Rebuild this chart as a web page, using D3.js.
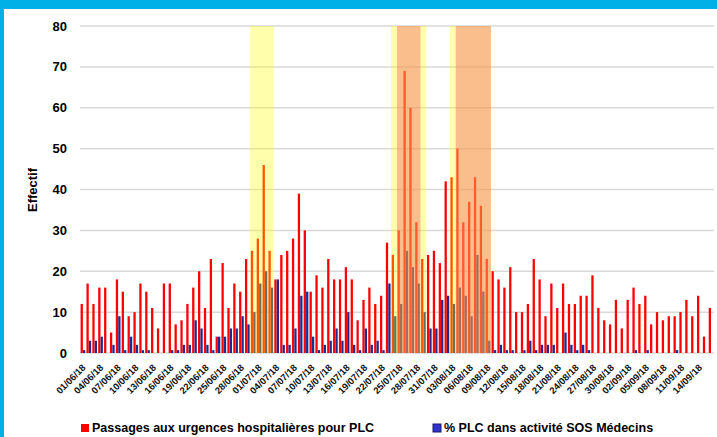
<!DOCTYPE html>
<html>
<head>
<meta charset="utf-8">
<script src="https://cdn.jsdelivr.net/npm/d3@7"></script>
<style>
  body { margin: 0; background: #fff; }
  svg { font-family: "Liberation Sans", Arial, sans-serif; display: block; }
</style>
</head>
<body>
<div id="chart"></div>
<script>
// daily categories 01/06/18 -> 16/09/18
const parseDay = d3.timeParse("%d/%m/%y");
const formatDay = d3.timeFormat("%d/%m/%y");
const days = d3.timeDay
  .range(parseDay("01/06/18"), parseDay("17/09/18"))
  .map(formatDay);

// Passages aux urgences hospitalières pour PLC
const urgences = [
  12, 17, 12, 16, 16, 5, 18, 15, 9, 10, 17, 15, 11, 6, 17, 17, 7, 8, 12, 16,
  20, 11, 23, 4, 22, 11, 17, 15, 23, 25, 28, 46, 25, 18, 24, 25, 28, 39, 30, 15,
  19, 16, 23, 18, 18, 21, 18, 8, 13, 16, 12, 14, 27, 24, 30, 69, 60, 32, 23, 24,
  25, 22, 42, 43, 50, 32, 37, 43, 36, 23, 20, 18, 16, 21, 10, 10, 12, 23, 18, 9,
  17, 11, 17, 12, 12, 14, 14, 19, 11, 8, 7, 13, 6, 13, 16, 12, 14, 7, 10, 8,
  9, 9, 10, 13, 9, 14, 4, 11
];

// % PLC dans activité SOS Médecins
const sosMedecins = [
  0.7, 3, 3, 4, 0, 2, 9, 0.7, 4, 2, 0.7, 0.7, 0, 0, 0, 0.7, 0.7, 2, 2, 8,
  6, 2, 0.7, 4, 4, 6, 6, 9, 7, 10, 17, 20, 16, 18, 2, 2, 6, 14, 15, 4,
  0.7, 2, 3, 6, 3, 10, 2, 0.7, 6, 2, 3, 0.7, 17, 9, 12, 25, 21, 17, 10, 6,
  6, 13, 14, 12, 16, 14, 9, 24, 15, 3, 0.7, 2, 0.7, 0.7, 0, 0.7, 3, 0.7, 2, 2,
  2, 0, 5, 2, 0.7, 2, 0.7, 0, 0, 0, 0, 0, 0, 0, 0.7, 0, 0.7, 0, 0, 0,
  0, 0.7, 0, 0, 0, 0, 0, 0
];

const yTicks = [0, 10, 20, 30, 40, 50, 60, 70, 80];

// vigilance periods (first and last day)
const yellowPeriods = [
  ["30/06/18", "03/07/18"],
  ["24/07/18", "24/07/18"],
  ["29/07/18", "29/07/18"],
  ["03/08/18", "03/08/18"]
];
const orangePeriods = [
  ["25/07/18", "28/07/18"],
  ["04/08/18", "09/08/18"]
];

const seriesNames = [
  "Passages aux urgences hospitalières pour PLC",
  "% PLC dans activité SOS Médecins"
];

function createChart() {
  var width = 717;
  var height = 437;

  var svg = d3.select("#chart")
    .append("svg")
    .attr("width", width)
    .attr("height", height);

  // frame
  svg.append("rect").attr("x", 0).attr("y", 0).attr("width", width).attr("height", 9).attr("fill", "#00B0E6");
  svg.append("rect").attr("x", 0).attr("y", 0).attr("width", 4).attr("height", height).attr("fill", "#00B0E6");

  var x = d3.scaleBand().domain(days).range([80, 714]).padding(0);
  var y = d3.scaleLinear().domain([0, 80]).range([353, 26]);
  var sub = d3.scaleBand()
    .domain(["urg", "sos"])
    .range([0, x.step()])
    .paddingInner(0.05)
    .paddingOuter(0.25);

  // gridlines
  svg.append("g")
    .selectAll("line")
    .data(yTicks)
    .enter()
    .append("line")
    .attr("x1", 80)
    .attr("x2", 714)
    .attr("y1", (d) => y(d))
    .attr("y2", (d) => y(d))
    .attr("stroke", "#d9d9d9")
    .attr("stroke-width", 1.5);

  var rows = days.map(function (d, i) {
    return { day: d, urg: urgences[i], sos: sosMedecins[i] };
  });

  svg.append("g")
    .selectAll("rect")
    .data(rows)
    .enter()
    .append("rect")
    .attr("x", (d) => x(d.day) + sub("urg"))
    .attr("width", sub.bandwidth())
    .attr("y", (d) => y(d.urg))
    .attr("height", (d) => y(0) - y(d.urg))
    .attr("fill", "#ff0000");

  svg.append("g")
    .selectAll("rect")
    .data(rows.filter((d) => d.sos > 0))
    .enter()
    .append("rect")
    .attr("x", (d) => x(d.day) + sub("sos"))
    .attr("width", sub.bandwidth())
    .attr("y", (d) => y(d.sos))
    .attr("height", (d) => y(0) - y(d.sos))
    .attr("fill", "#1f2a8c");

  // vigilance overlays, drawn over the bars
  function bands(periods, color, opacity) {
    svg.append("g")
      .selectAll("rect")
      .data(periods)
      .enter()
      .append("rect")
      .attr("x", (d) => x(d[0]))
      .attr("width", (d) => x(d[1]) + x.step() - x(d[0]))
      .attr("y", y(80))
      .attr("height", y(0) - y(80))
      .attr("fill", color)
      .attr("fill-opacity", opacity);
  }
  bands(yellowPeriods, "#ffff00", 0.33);
  bands(orangePeriods, "#f79646", 0.62);

  // x labels, every 3 days
  var tickDays = days.filter((d, i) => i % 3 === 0);
  svg.append("g")
    .selectAll("text")
    .data(tickDays)
    .enter()
    .append("text")
    .attr("transform", (d) => "translate(" + (x(d) + x.step() / 2 + 1) + ",366) rotate(-45)")
    .attr("text-anchor", "end")
    .attr("dy", "0.35em")
    .style("font-size", "9.5px")
    .style("font-weight", "bold")
    .attr("fill", "#111")
    .text((d) => d);

  // y labels
  svg.append("g")
    .selectAll("text")
    .data(yTicks)
    .enter()
    .append("text")
    .attr("x", 67)
    .attr("y", (d) => y(d))
    .attr("dy", "0.35em")
    .attr("text-anchor", "end")
    .style("font-size", "13px")
    .style("font-weight", "bold")
    .text((d) => d);

  svg.append("text")
    .attr("transform", "translate(37,190) rotate(-90)")
    .attr("text-anchor", "middle")
    .style("font-size", "13px")
    .style("font-weight", "bold")
    .text("Effectif");

  // legend
  var legend = svg.append("g").attr("class", "legend");
  var legendX = [81, 433];
  var legendColors = ["#ff0000", "#3333cc"];
  seriesNames.forEach(function (name, i) {
    legend.append("rect")
      .attr("x", legendX[i])
      .attr("y", 424)
      .attr("width", 8)
      .attr("height", 8)
      .attr("fill", legendColors[i])
      .attr("stroke", i === 1 ? "#1a1a70" : "none");
    legend.append("text")
      .attr("x", legendX[i] + 11)
      .attr("y", 432)
      .style("font-size", "12.5px")
      .style("font-weight", "bold")
      .text(name);
  });
}

createChart();
</script>
</body>
</html>
